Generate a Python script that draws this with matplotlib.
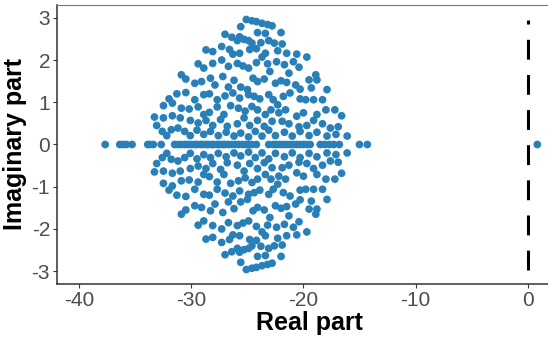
import numpy as np
import matplotlib.pyplot as plt

plt.rcParams['font.family'] = ['Liberation Sans', 'DejaVu Sans']
plt.rcParams['axes.unicode_minus'] = False

# eigenvalues: real ones, and the upper half of the
# complex conjugate pairs (lower half is the mirror image)
real_eigs = [-37.7, -36.4, -36.1, -35.8, -35.3, -33.9, -33.7, -33.4, -32.7,
             -31.5, -31.2, -30.9, -30.6, -30.3, -30.0, -29.7, -29.5, -29.2,
             -29.0, -28.7, -28.5, -28.2, -28.0, -27.7, -27.5, -27.2, -27.0,
             -26.7, -26.4, -26.1, -25.8, -25.5, -25.2, -24.9, -24.6, -24.2,
             -23.1, -22.7, -22.4, -22.1, -21.8, -21.5, -21.2, -20.9, -20.6,
             -20.3, -20.0, -19.7, -19.4, -18.5, -18.1, -17.7, -17.3, -16.8,
             -15.0, -14.3, 0.87]

pair_re = [-25.1, -24.6, -24.2, -23.7, -23.2, -22.8, -25.6, -24.1, -23.4, -22.0,
           -27.0, -25.7, -25.3, -24.9, -24.6, -23.8, -23.1, -22.6, -21.9, -26.4,
           -25.9,
           -28.7, -28.1, -27.3, -26.6, -26.3, -25.7, -24.8, -24.2, -23.4, -22.3,
           -21.5, -20.6, -19.7,
           -29.4, -28.9, -28.1, -27.3, -26.7, -25.9, -25.4, -24.9, -24.2, -23.7,
           -23.2, -22.4, -21.7, -20.9, -20.4, -21.3, -18.9, -18.8,
           -30.9, -30.5, -29.7, -29.1, -28.3, -27.9, -27.2, -26.7, -26.2, -25.6,
           -25.0, -24.5, -24.1, -23.5, -23.0, -22.5, -22.0, -21.5, -20.7, -20.3,
           -19.5, -19.3, -17.9,
           -32.0, -31.3, -30.5, -29.7, -28.9, -28.4, -27.7, -27.0, -26.3, -25.7,
           -24.9, -24.4, -23.9, -23.1, -22.7, -22.3, -21.8, -21.2, -20.3, -19.8,
           -19.1, -18.3,
           -32.5, -31.7, -30.9, -30.2, -29.4, -28.9, -28.4, -27.7, -27.1, -26.5,
           -25.8, -25.2, -24.6, -24.1, -23.4, -22.9, -22.2, -21.6, -20.6, -20.0,
           -18.8, -18.0, -17.2, -16.6,
           -33.3, -32.5, -31.7, -31.0, -30.1, -29.4, -28.7, -28.1, -27.4, -26.8,
           -25.9, -25.3, -24.8, -24.1, -23.5, -22.8, -21.9, -21.3, -20.4, -19.7,
           -19.1, -18.3, -17.6, -16.9,
           -33.1, -32.6, -32.2, -31.8, -31.2, -30.6, -30.1, -29.5, -28.9, -28.3,
           -27.6, -26.9, -26.2, -25.6, -24.9, -24.3, -23.7, -23.1, -22.5, -21.7,
           -21.0, -20.3, -19.5, -18.8, -17.9, -17.1, -16.1]

pair_im = [2.96, 2.93, 2.91, 2.87, 2.84, 2.81, 2.79, 2.65, 2.63, 2.65,
           2.61, 2.55, 2.49, 2.46, 2.40, 2.41, 2.46, 2.40, 2.38, 2.54,
           2.46,
           2.24, 2.20, 2.32, 2.25, 2.14, 2.16, 2.25, 2.27, 2.16, 2.22,
           2.16, 2.14, 2.07,
           1.91, 1.81, 1.92, 2.00, 1.85, 1.92, 1.86, 1.81, 1.94, 2.07,
           1.91, 1.96, 1.89, 1.96, 1.83, 1.69, 1.65, 1.53,
           1.65, 1.55, 1.45, 1.49, 1.57, 1.41, 1.61, 1.36, 1.52, 1.36,
           1.30, 1.57, 1.49, 1.55, 1.73, 1.45, 1.51, 1.47, 1.41, 1.31,
           1.53, 1.34, 1.30,
           1.08, 1.20, 1.23, 1.06, 1.18, 1.20, 1.06, 1.15, 1.22, 1.10,
           1.18, 1.14, 1.08, 1.18, 1.06, 0.94, 1.14, 1.22, 1.08, 1.06,
           1.06, 1.06,
           0.92, 0.98, 0.86, 0.84, 0.89, 0.71, 0.76, 0.89, 0.71, 0.92,
           0.86, 0.79, 0.90, 0.82, 0.71, 0.82, 0.75, 0.82, 0.67, 0.75,
           0.71, 0.82, 0.82, 0.68,
           0.65, 0.63, 0.68, 0.63, 0.57, 0.51, 0.57, 0.45, 0.59, 0.43,
           0.49, 0.63, 0.45, 0.57, 0.43, 0.55, 0.55, 0.49, 0.42, 0.45,
           0.57, 0.49, 0.39, 0.42,
           0.45, 0.31, 0.21, 0.35, 0.39, 0.31, 0.21, 0.34, 0.24, 0.31,
           0.21, 0.29, 0.20, 0.27, 0.18, 0.31, 0.20, 0.34, 0.21, 0.29,
           0.20, 0.31, 0.21, 0.29, 0.20, 0.24, 0.20]

re = np.concatenate([real_eigs, pair_re, pair_re])
im = np.concatenate([np.zeros(len(real_eigs)), pair_im, -np.array(pair_im)])

fig = plt.figure(figsize=(5.48, 3.42), dpi=100)
ax = fig.add_axes([0.104, 0.170, 0.920, 0.815])

ax.scatter(re, im, s=31, color='#2980B9', edgecolors='none', zorder=3)
ax.plot([0, 0], [-2.97, 2.95], color='black', lw=2.2, dashes=(6.5, 5))

ax.set_xlim(-42, 3.0)
ax.set_ylim(-3.3, 3.3)
ax.set_xticks([-40, -30, -20, -10, 0])
ax.set_yticks([-3, -2, -1, 0, 1, 2, 3])

for side in ['left', 'bottom']:
    ax.spines[side].set_color('#333333')
    ax.spines[side].set_linewidth(1.1)
for side in ['top', 'right']:
    ax.spines[side].set_color('#777777')
    ax.spines[side].set_linewidth(0.8)

ax.tick_params(length=3, width=0.8, color='#333333', labelsize=15,
               labelcolor='#4D4D4D', pad=2)
ax.set_xlabel('Real part', fontsize=18, fontweight='bold', labelpad=1)
ax.set_ylabel('Imaginary part', fontsize=18, fontweight='bold', labelpad=3)

fig.savefig('out.png', dpi=100)
